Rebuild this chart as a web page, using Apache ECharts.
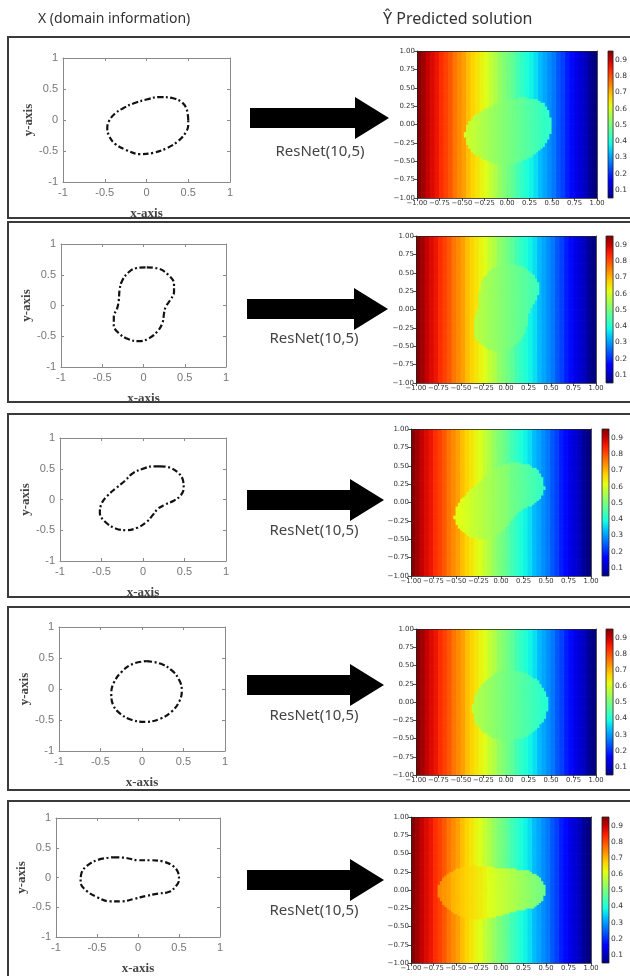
<!DOCTYPE html>
<html><head><meta charset="utf-8">
<script src="https://cdn.jsdelivr.net/npm/echarts@6/dist/echarts.min.js"></script>
<style>html,body{margin:0;padding:0;background:#fff}#c{width:630px;height:976px}</style>
</head><body><div id="c"></div><script>
// ---------- text ----------
const headerLeft = 'X (domain information)';
const headerRight = '\u0176 Predicted solution';
const arrowLabel = 'ResNet(10,5)';
const axisNameX = 'x-axis';
const axisNameY = 'y-axis';
const colorbarTicks = [0.1, 0.2, 0.3, 0.4, 0.5, 0.6, 0.7, 0.8, 0.9];
const colorMin = 0.05, colorMax = 0.955;

// ---------- domain boundaries ----------
const shape1 = [[0.50,0.00],[0.48,0.18],[0.42,0.29],[0.32,0.35],[0.15,0.37],[0.00,0.33],[-0.15,0.27],[-0.28,0.19],[-0.38,0.10],[-0.45,-0.02],[-0.47,-0.13],[-0.45,-0.25],[-0.38,-0.38],[-0.25,-0.48],[-0.08,-0.55],[0.08,-0.53],[0.25,-0.45],[0.38,-0.34],[0.47,-0.20],[0.50,-0.08],[0.50,0.00]];
const shape2 = [[0.04,0.62],[0.18,0.60],[0.30,0.50],[0.37,0.35],[0.37,0.22],[0.32,0.08],[0.27,-0.02],[0.25,-0.12],[0.23,-0.28],[0.17,-0.42],[0.07,-0.53],[-0.05,-0.58],[-0.18,-0.55],[-0.30,-0.45],[-0.36,-0.32],[-0.36,-0.18],[-0.32,-0.05],[-0.30,0.08],[-0.29,0.25],[-0.26,0.40],[-0.18,0.54],[-0.08,0.61],[0.04,0.62]];
const shape3 = [[0.20,0.54],[0.32,0.52],[0.42,0.44],[0.48,0.32],[0.49,0.18],[0.45,0.06],[0.37,-0.02],[0.27,-0.08],[0.18,-0.15],[0.12,-0.25],[0.04,-0.37],[-0.07,-0.46],[-0.20,-0.50],[-0.33,-0.47],[-0.45,-0.37],[-0.52,-0.22],[-0.50,-0.07],[-0.43,0.06],[-0.33,0.18],[-0.22,0.30],[-0.12,0.43],[0.02,0.51],[0.12,0.54],[0.20,0.54]];
const shape4 = [[0.05,0.45],[0.22,0.41],[0.36,0.30],[0.45,0.14],[0.48,-0.02],[0.45,-0.20],[0.36,-0.36],[0.22,-0.48],[0.04,-0.53],[-0.12,-0.50],[-0.26,-0.40],[-0.35,-0.25],[-0.37,-0.07],[-0.34,0.10],[-0.25,0.27],[-0.12,0.40],[0.05,0.45]];
const shape5 = [[-0.30,0.34],[-0.15,0.33],[0.00,0.29],[0.15,0.29],[0.30,0.27],[0.42,0.20],[0.49,0.08],[0.50,-0.04],[0.46,-0.15],[0.38,-0.24],[0.25,-0.27],[0.10,-0.31],[-0.05,-0.36],[-0.20,-0.40],[-0.35,-0.40],[-0.50,-0.33],[-0.63,-0.22],[-0.70,-0.08],[-0.69,0.07],[-0.62,0.20],[-0.48,0.30],[-0.30,0.34]];

// ---------- predicted solution, column profiles (40 columns from x=-1 to 1) ----------
const outsideProfile = [0.95,0.93,0.90,0.88,0.86,0.83,0.81,0.79,0.76,0.74,
                        0.72,0.69,0.67,0.65,0.63,0.61,0.58,0.56,0.53,0.51,
                        0.49,0.47,0.44,0.42,0.40,0.38,0.36,0.33,0.31,0.29,
                        0.27,0.24,0.22,0.19,0.17,0.14,0.12,0.10,0.07,0.05];
const insideRow1 = [null,null,null,null,null,null,null,null,null,null,
                    0.60,0.59,0.58,0.57,0.56,0.55,0.54,0.53,0.52,0.51,
                    0.50,0.49,0.48,0.47,0.46,0.45,0.44,0.43,0.42,0.42,
                    null,null,null,null,null,null,null,null,null,null];
const insideRow2 = [null,null,null,null,null,null,null,null,null,null,null,null,
                    0.58,0.57,0.56,0.55,0.54,0.53,0.52,0.51,0.50,0.49,0.48,0.47,0.46,0.45,0.44,0.43,
                    null,null,null,null,null,null,null,null,null,null,null,null];
const insideRow3 = [null,null,null,null,null,null,null,null,null,
                    0.63,0.62,0.61,0.60,0.59,0.58,0.57,0.56,0.55,0.54,0.53,0.52,0.51,0.49,0.48,0.47,0.46,0.45,0.44,0.43,0.42,
                    null,null,null,null,null,null,null,null,null,null];
const insideRow4 = [null,null,null,null,null,null,null,null,null,null,null,null,
                    0.57,0.56,0.55,0.54,0.53,0.52,0.51,0.50,0.49,0.48,0.47,0.46,0.45,0.44,0.43,0.42,0.41,0.40,
                    null,null,null,null,null,null,null,null,null,null];
const insideRow5 = [null,null,null,null,null,null,
                    0.74,0.73,0.72,0.70,0.69,0.68,0.67,0.66,0.65,0.64,0.63,0.61,0.60,0.59,0.58,0.57,0.56,0.55,0.54,0.53,0.52,0.51,0.50,0.49,
                    null,null,null,null,null,null,null,null,null,null];

const shapes = [shape1, shape2, shape3, shape4, shape5];
const insides = [insideRow1, insideRow2, insideRow3, insideRow4, insideRow5];

// ---------- layout ----------
const rowsLayout = [
 {frame:[8,37,625,181], lg:[63,58,167,124], hg:[417,51,180,147], cb:[608,51,8,147], ax0:250, tip:389, ay:118, lx:320, ly:152},
 {frame:[8,222,625,180], lg:[61,244,165,123], hg:[416,236,180,147], cb:[606,236,8,147], ax0:247, tip:388, ay:309, lx:314, ly:339},
 {frame:[8,414,625,183], lg:[60,438,166,123], hg:[411,429,180,147], cb:[602,429,7,147], ax0:247, tip:384, ay:500, lx:314, ly:531},
 {frame:[8,607,625,183], lg:[59,627,166,124], hg:[416,629,180,146], cb:[606,629,8,146], ax0:247, tip:384, ay:685, lx:314, ly:716},
 {frame:[8,801,625,190], lg:[56,818,164,124], hg:[411,817,180,146], cb:[602,817,7,146], ax0:247, tip:384, ay:880, lx:314, ly:911}
];
const NX = outsideProfile.length, SUB = 2, NXS = NX * SUB, NY = 80;
const DX = 2 / NXS, DY = 2 / NY;
const jet = ['#000080','#0000c8','#0000ff','#0040ff','#0080ff','#00bfff','#15ffe2','#48ffaf','#7bff7b','#afff48','#e2ff15','#ffd200','#ff9700','#ff5c00','#ff2100','#c80000','#800000'];

function inPoly(x, y, poly) {
  let c = false;
  for (let i = 0, j = poly.length - 1; i < poly.length; j = i++) {
    const xi = poly[i][0], yi = poly[i][1], xj = poly[j][0], yj = poly[j][1];
    if (((yi > y) !== (yj > y)) && (x < (xj - xi) * (y - yi) / (yj - yi) + xi)) c = !c;
  }
  return c;
}
// each profile column is drawn as SUB narrower cells carrying the same read value
function cells(shape, inside) {
  const out = [];
  for (let k = 0; k < NXS; k++) {
    const i = Math.floor(k / SUB);
    const xc = -1 + (k + 0.5) * DX;
    for (let j = 0; j < NY; j++) {
      const yc = -1 + (j + 0.5) * DY;
      let v = outsideProfile[i];
      if (inside[i] != null && inPoly(xc, yc, shape)) v = inside[i];
      out.push([xc, yc, v]);
    }
  }
  return out;
}
const fmt2 = v => (v < 0 ? '\u2212' : '') + Math.abs(v).toFixed(2);

const grid = [], xAxis = [], yAxis = [], series = [], graphic = [], heatIdx = [];
const gray = '#8a8a8a';

function renderCell(params, api) {
  const c = api.coord([api.value(0), api.value(1)]);
  const s = api.size([DX, DY]);
  return {type:'rect', shape:{x:c[0]-s[0]/2-0.35, y:c[1]-s[1]/2-0.35, width:s[0]+0.7, height:s[1]+0.7},
    style:{fill:api.visual('color'), stroke:null}};
}

rowsLayout.forEach((L, r) => {
  graphic.push({type:'rect', shape:{x:L.frame[0], y:L.frame[1], width:L.frame[2], height:L.frame[3]}, style:{fill:null, stroke:'#3a3a3a', lineWidth:2}, silent:true, z:0});
  const cy = L.ay, hx = L.tip - 34;
  graphic.push({type:'polygon', shape:{points:[[L.ax0,cy-10],[hx,cy-10],[hx,cy-21],[L.tip,cy],[hx,cy+21],[hx,cy+10],[L.ax0,cy+10]]}, style:{fill:'#000'}, silent:true});
  graphic.push({type:'text', x:L.lx, y:L.ly, style:{text:arrowLabel, fontSize:15, fontFamily:'Noto Sans', fill:'#444', align:'center', verticalAlign:'middle'}, silent:true});

  // ---- left panel ----
  const g0 = grid.length;
  grid.push({left:L.lg[0], top:L.lg[1], width:L.lg[2], height:L.lg[3]});
  const base = {gridIndex:g0, type:'value', min:-1, max:1, interval:0.5,
    axisLine:{show:true, onZero:false, lineStyle:{color:gray, width:1}},
    axisTick:{show:true, inside:true, length:3, lineStyle:{color:gray}},
    splitLine:{show:false}};
  const lab = {color:'#777', fontSize:11, fontFamily:'Liberation Sans', margin:5, showMinLabel:true, showMaxLabel:true, hideOverlap:false};
  const xi0 = xAxis.length;
  xAxis.push(Object.assign({}, base, {position:'bottom', name:axisNameX, nameLocation:'middle', nameGap:25,
    nameTextStyle:{fontFamily:'Liberation Serif', fontWeight:'bold', fontSize:13, color:'#444'}, axisLabel:lab}));
  xAxis.push(Object.assign({}, base, {position:'top', axisLabel:{show:false}}));
  const yi0 = yAxis.length;
  yAxis.push(Object.assign({}, base, {position:'left', name:axisNameY, nameLocation:'middle', nameGap:27,
    nameTextStyle:{fontFamily:'Liberation Serif', fontWeight:'bold', fontSize:13, color:'#444'}, axisLabel:lab}));
  yAxis.push(Object.assign({}, base, {position:'right', axisLabel:{show:false}}));
  series.push({type:'line', xAxisIndex:xi0, yAxisIndex:yi0, data:shapes[r], smooth:0.4, symbol:'none',
    lineStyle:{color:'#111', width:2.2, type:[6,2.5,2,2.5]}, silent:true, animation:false});

  // ---- heatmap on value axes ----
  const g2 = grid.length;
  grid.push({left:L.hg[0], top:L.hg[1], width:L.hg[2], height:L.hg[3]});
  const hb = {gridIndex:g2, type:'value', min:-1, max:1, interval:0.25, z:5,
    axisLine:{show:true, onZero:false, lineStyle:{color:'#222', width:0.8}},
    axisTick:{show:true, length:3, lineStyle:{color:'#222', width:0.8}},
    axisLabel:{fontSize:6.8, color:'#333', fontFamily:'DejaVu Sans', margin:2, formatter:fmt2},
    splitLine:{show:false}};
  const xh = xAxis.length, yh = yAxis.length;
  xAxis.push(Object.assign({}, hb, {position:'bottom'}));
  xAxis.push(Object.assign({}, hb, {position:'top', axisTick:{show:false}, axisLabel:{show:false}}));
  yAxis.push(Object.assign({}, hb, {position:'left', axisLabel:Object.assign({}, hb.axisLabel, {fontSize:7})}));
  yAxis.push(Object.assign({}, hb, {position:'right', axisTick:{show:false}, axisLabel:{show:false}}));
  heatIdx.push(series.length);
  series.push({type:'custom', xAxisIndex:xh, yAxisIndex:yh, data:cells(shapes[r], insides[r]),
    encode:{x:0, y:1}, renderItem:renderCell, silent:true, animation:false, progressive:0, clip:true});

  // ---- colorbar ----
  const g3 = grid.length;
  grid.push({left:L.cb[0], top:L.cb[1], width:L.cb[2], height:L.cb[3]});
  const xc = xAxis.length, yc = yAxis.length;
  xAxis.push({gridIndex:g3, type:'value', min:0, max:1, show:false});
  yAxis.push({gridIndex:g3, type:'value', min:colorMin, max:colorMax, position:'right',
    axisLine:{show:false}, splitLine:{show:false},
    axisTick:{show:true, length:3, customValues:colorbarTicks, lineStyle:{color:'#222', width:0.8}},
    axisLabel:{show:true, customValues:colorbarTicks, fontSize:7.5, color:'#333', fontFamily:'DejaVu Sans', margin:2, formatter:v => v.toFixed(1)}});
  const stops = jet.map((c, k) => ({offset: 1 - k / (jet.length - 1), color: c}));
  series.push({type:'custom', xAxisIndex:xc, yAxisIndex:yc, data:[[0, colorMin, colorMax]], silent:true, animation:false,
    renderItem: (params, api) => {
      const p0 = api.coord([0, api.value(2)]);
      const p1 = api.coord([1, api.value(1)]);
      return {type:'rect', shape:{x:p0[0], y:p0[1], width:p1[0]-p0[0], height:p1[1]-p0[1]},
        style:{fill:new echarts.graphic.LinearGradient(0,0,0,1,stops), stroke:'#222', lineWidth:0.8}};
    }});
});

graphic.push({type:'text', x:38, y:19, style:{text:headerLeft, fontSize:14, fontFamily:'Noto Sans', fill:'#333', verticalAlign:'middle'}, silent:true});
graphic.push({type:'text', x:383, y:19, style:{text:headerRight, fontSize:16, fontFamily:'Noto Sans', fill:'#333', verticalAlign:'middle'}, silent:true});

const chart = echarts.init(document.getElementById('c'), null, {renderer:'canvas', width:630, height:976});
chart.setOption({
  animation:false,
  backgroundColor:'#fff',
  grid, xAxis, yAxis, series, graphic,
  visualMap:{type:'continuous', show:false, min:colorMin, max:colorMax, dimension:2, seriesIndex:heatIdx, inRange:{color:jet}}
});
</script></body></html>
